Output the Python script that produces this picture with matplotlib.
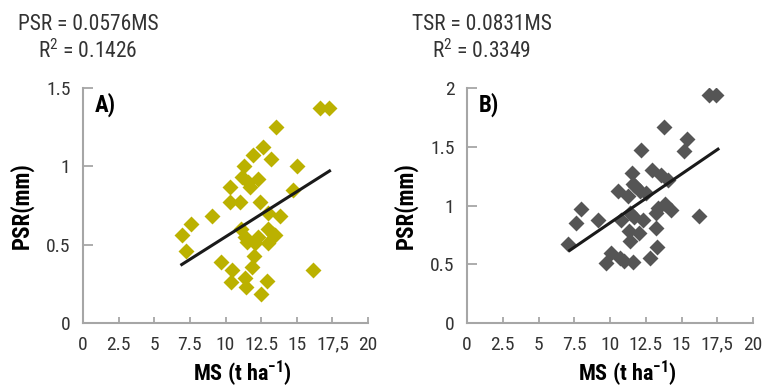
import numpy as np
import matplotlib
matplotlib.use("Agg")
import matplotlib.pyplot as plt

plt.rcParams['font.family'] = ['Roboto Condensed', 'Roboto', 'DejaVu Sans']
plt.rcParams['mathtext.fontset'] = 'custom'
plt.rcParams['mathtext.rm'] = 'Roboto Condensed'
plt.rcParams['mathtext.bf'] = 'Roboto Condensed:bold'

# panel A: PSR vs MS
ms_a = [6.97, 7.2, 7.58, 9.03, 9.68, 10.32, 10.32, 11.02, 10.43, 10.39,
        11.37, 11.42, 11.88, 12.02, 12.49, 12.89, 11.09, 11.37, 11.5, 12.07,
        13.0, 13.0, 13.47, 13.0, 13.82, 12.42, 14.76, 15.0, 16.16, 16.63,
        17.26, 13.54, 12.65, 11.9, 13.17, 11.3, 12.26, 11.14, 11.6, 11.72,
        12.3, 13.3]
psr_a = [0.56, 0.46, 0.63, 0.68, 0.39, 0.87, 0.77, 0.77, 0.34, 0.26,
         0.285, 0.23, 0.355, 0.43, 0.185, 0.27, 0.60, 0.55, 0.52, 0.51,
         0.51, 0.60, 0.56, 0.70, 0.68, 0.77, 0.85, 1.0, 0.34, 1.37,
         1.37, 1.25, 1.125, 1.07, 1.05, 1.0, 0.92, 0.93, 0.90, 0.87,
         0.55, 0.57]
fit_a = (0.0576, -0.026)
range_a = (6.93, 17.3)

# panel B: TSR vs MS
ms_b = [7.06, 7.6, 7.95, 9.16, 9.75, 10.1, 10.68, 10.56, 10.8, 11.38,
        11.26, 11.61, 12.08, 12.55, 11.73, 11.57, 12.15, 12.97, 13.59, 14.06,
        13.78, 15.41, 15.15, 16.9, 17.44, 16.2, 13.36, 13.83, 14.29, 13.24,
        13.24, 11.33, 12.03, 11.38, 13.29, 11.61, 12.78, 12.31, 11.0, 11.7]
tsr_b = [0.67, 0.85, 0.97, 0.88, 0.51, 0.60, 0.55, 1.12, 0.88, 0.94,
         1.08, 1.18, 1.12, 1.11, 1.17, 1.28, 1.47, 1.30, 1.26, 1.22,
         1.67, 1.57, 1.46, 1.94, 1.94, 0.91, 0.98, 1.01, 0.96, 0.94,
         0.81, 0.78, 0.77, 0.70, 0.65, 0.52, 0.55, 0.88, 0.53, 0.90]
fit_b = (0.0831, 0.021)
range_b = (7.18, 17.55)

xticks = [0, 2.5, 5, 7.5, 10, 12.5, 15, 17.5, 20]
xticklabels = ['0', '2.5', '5', '7.5', '10', '12.5', '15', '17,5', '20']

fig = plt.figure(figsize=(7.71, 3.88), dpi=100)
W, H = 771, 388


def panel(rect, x, y, fit, xr, color, ymax, yticks, tag, eq, r2, eqx):
    ax = fig.add_axes(rect)
    ax.scatter(x, y, marker='D', s=66, color=color, linewidths=0, zorder=2)
    xs = np.array(xr)
    ax.plot(xs, fit[0] * xs + fit[1], color='#1a1a1a', lw=2.2, zorder=3)
    ax.set_xlim(0, 20)
    ax.set_ylim(0, ymax)
    ax.set_xticks(xticks)
    ax.set_xticklabels(xticklabels)
    ax.set_yticks(yticks)
    ax.set_yticklabels([('%g' % t) for t in yticks])
    for s in ['top', 'right']:
        ax.spines[s].set_visible(False)
    for s in ['left', 'bottom']:
        ax.spines[s].set_color('#a6a6a6')
        ax.spines[s].set_linewidth(1.5)
    ax.tick_params(axis='y', direction='in', length=7, width=1.3,
                   color='#a6a6a6', labelsize=14, pad=9, labelcolor='#333333')
    ax.tick_params(axis='x', direction='in', length=4, width=1.3,
                   color='#a6a6a6', labelsize=14, pad=9, labelcolor='#333333')
    ax.set_ylabel('PSR(mm)', fontsize=16.5, fontweight='bold')
    ax.yaxis.label.set_va('center')
    ax.yaxis.set_label_coords(-0.215, 0.5)
    ax.set_xlabel('MS (t ha$^{\\mathbf{-1}}$)', fontsize=16, fontweight='bold')
    ax.xaxis.label.set_va('center')
    ax.xaxis.set_label_coords(0.56, -0.215)
    ax.text(0.04, 0.93, tag, transform=ax.transAxes, fontsize=16.5,
            fontweight='bold', va='center')
    fig.text(eqx / W, 1 - 24 / H, eq, fontsize=15.5, ha='center', va='center',
             color='#333333')
    fig.text(eqx / W, 1 - 51 / H, r2, fontsize=15.5, ha='center', va='center',
             color='#333333')
    return ax


panel([83 / W, 1 - 323 / H, 285 / W, 235 / H], ms_a, psr_a, fit_a, range_a,
      '#bbb100', 1.5, [0, 0.5, 1, 1.5], 'A)',
      'PSR = 0.0576MS', 'R$^2$ = 0.1426', 88)
panel([467 / W, 1 - 323 / H, 286 / W, 235 / H], ms_b, tsr_b, fit_b, range_b,
      '#555555', 2, [0, 0.5, 1, 1.5, 2], 'B)',
      'TSR = 0.0831MS', 'R$^2$ = 0.3349', 482)

fig.savefig('out.png', dpi=100)
